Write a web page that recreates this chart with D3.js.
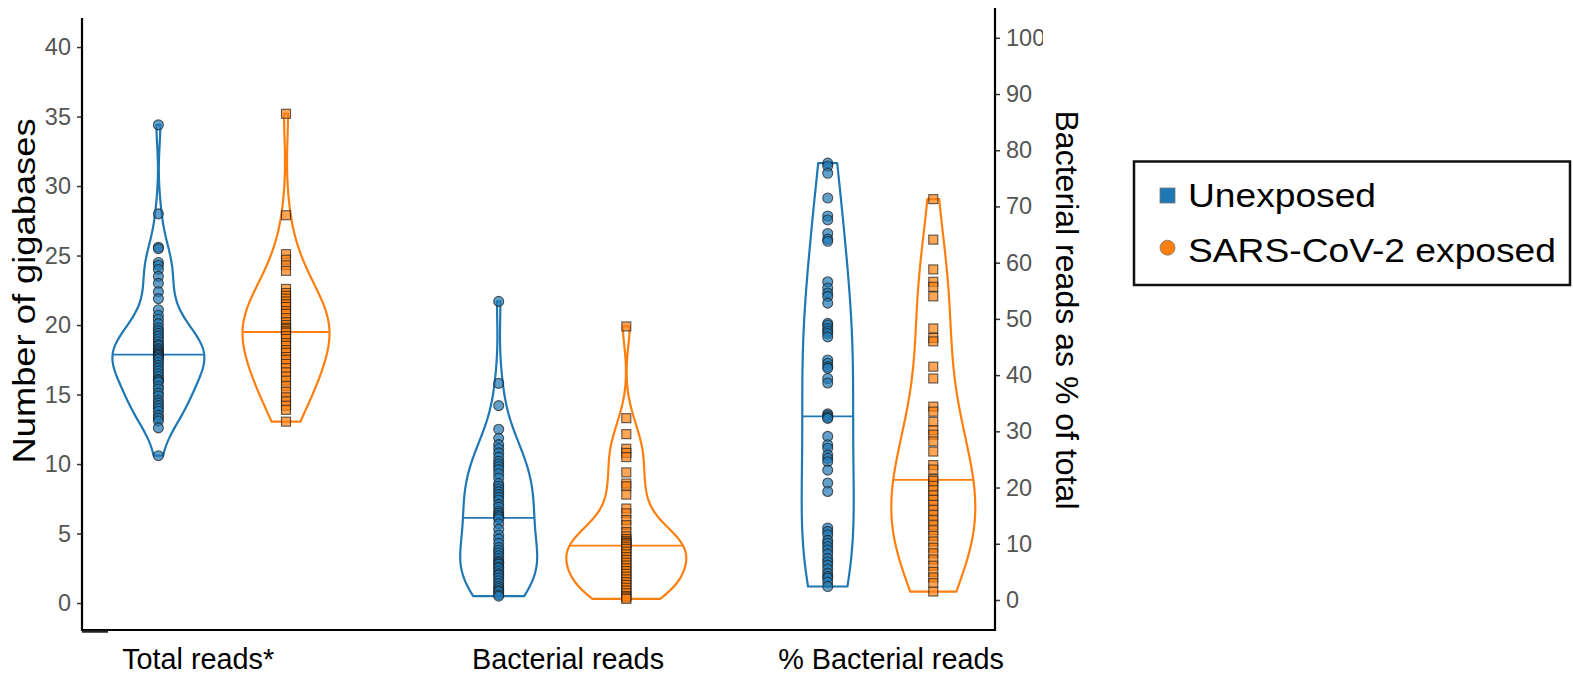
<!DOCTYPE html>
<html>
<head>
<meta charset="utf-8">
<script src="https://cdn.jsdelivr.net/npm/d3@7"></script>
<style>
  html, body { margin: 0; padding: 0; background: #fff; }
  svg { display: block; font-family: "Liberation Sans", Arial, Helvetica, sans-serif; }
</style>
</head>
<body>
<svg id="chart" width="1573" height="677"></svg>
<script>
// ---- data -------------------------------------------------------------
const metrics = ["Total reads*", "Bacterial reads", "% Bacterial reads"];
const groups = ["Unexposed", "SARS-CoV-2 exposed"];
const leftTicks = [0, 5, 10, 15, 20, 25, 30, 35, 40];
const rightTicks = [0, 10, 20, 30, 40, 50, 60, 70, 80, 90, 100];
const leftAxisTitle = "Number of gigabases";
const rightAxisTitle = "Bacterial reads as % of total";

// gigabases per sample
const totalUnexposed = [34.4, 28.0, 25.6, 25.5, 24.5, 24.3, 24.0, 23.5, 23.0, 22.4, 21.9, 21.1,
  20.7, 20.4, 20.1, 19.8, 19.6, 19.4, 19.2, 19.0, 18.8, 18.6, 18.5, 18.3, 18.2, 18.1, 18.0,
  17.9, 17.85, 17.8, 17.7, 17.6, 17.5, 17.3, 17.1, 16.9, 16.7, 16.5, 16.3, 16.1, 16.0, 15.9,
  15.6, 15.4, 15.1, 14.9, 14.6, 14.4, 14.2, 14.0, 13.8, 13.5, 13.3, 13.1, 12.6, 10.6];
const totalExposed = [35.2, 27.9, 25.1, 24.7, 24.3, 23.9, 22.6, 22.3, 22.1, 21.9, 21.7, 21.5,
  21.3, 21.0, 20.8, 20.5, 20.2, 20.0, 19.8, 19.7, 19.55, 19.45, 19.2, 19.0, 18.7, 18.5, 18.2,
  18.0, 17.7, 17.5, 17.2, 16.9, 16.6, 16.3, 16.0, 15.6, 15.2, 14.8, 14.5, 14.2, 13.9, 13.05];
const bacterialUnexposed = [21.7, 15.8, 14.2, 12.5, 11.85, 11.4, 11.1, 10.8, 10.5, 10.2, 10.0,
  9.8, 9.6, 9.3, 9.0, 8.6, 8.4, 8.2, 8.0, 7.8, 7.6, 7.4, 7.1, 6.9, 6.6, 6.45, 6.3, 6.2,
  6.05, 5.7, 5.3, 4.9, 4.6, 4.3, 4.0, 3.8, 3.6, 3.4, 3.2, 3.0, 2.9, 2.8, 2.6, 2.5, 2.3, 2.1,
  2.0, 1.8, 1.6, 1.4, 1.2, 1.05, 0.9, 0.8, 0.6, 0.5];
const bacterialExposed = [19.9, 13.3, 12.15, 11.1, 10.8, 10.5, 9.4, 8.6, 8.4, 7.8, 6.8, 6.45,
  5.97, 5.6, 5.1, 4.8, 4.6, 4.45, 4.35, 4.3, 4.2, 4.05, 3.9, 3.7, 3.5, 3.3, 3.1, 2.9, 2.7,
  2.5, 2.3, 2.1, 1.9, 1.7, 1.5, 1.3, 1.1, 0.9, 0.7, 0.5, 0.4, 0.3];
// bacterial share of all reads, percent
const pctUnexposed = [77.7, 77.2, 75.9, 71.5, 68.3, 67.6, 65.2, 64.2, 63.8, 56.6, 55.5, 54.6,
  54.0, 52.8, 49.2, 48.9, 48.3, 47.8, 47.4, 46.8, 42.7, 42.1, 41.5, 41.2, 39.4, 38.6, 33.1,
  32.8, 32.5, 32.3, 29.1, 27.6, 27.0, 25.8, 25.2, 24.6, 23.1, 20.8, 19.3, 12.8, 12.2, 11.6,
  10.6, 10.1, 9.5, 8.9, 8.2, 7.4, 6.8, 6.2, 5.5, 4.75, 4.2, 3.9, 3.2, 2.4];
const pctExposed = [71.3, 64.1, 58.8, 56.6, 55.7, 54.0, 48.3, 46.6, 46.0, 41.5, 39.4, 34.4, 33.5,
  31.7, 30.2, 29.4, 28.2, 26.4, 24.0, 23.2, 21.5, 21.2, 20.3, 19.5, 18.6, 17.8, 16.9, 16.0,
  15.1, 14.2, 13.3, 12.4, 11.4, 10.4, 9.3, 8.3, 7.2, 6.1, 5.0, 4.0, 3.0, 1.5];

// ---- layout -----------------------------------------------------------
const colors = { "Unexposed": "#1f77b4", "SARS-CoV-2 exposed": "#ff7f0e" };
const plotTop = 18, plotTopRight = 8, plotBottom = 630;
const axisLeftX = 82, axisRightX = 995;
const groupOffset = 0.1875;                              // half distance between paired violins
const halfWidths = [[46, 43.5], [38.5, 60], [26, 42]];   // widest half-width of each violin (px)
const bwScale = [[1, 1.25], [1, 0.8], [1.15, 1]];        // kernel bandwidth multipliers
const labelShift = [-24, 5.5, 10.5];                     // category label shift from pair centre

const svg = d3.select("#chart");

const yLeft = d3.scaleLinear().domain([-1.94, 42.09]).range([plotBottom, plotTop]);
const yRight = d3.scaleLinear().domain([-5.34, 105.3]).range([plotBottom, plotTopRight]);
const xLeft = d3.scaleLinear().domain([0, 1]).range([222.2, 562.5]);
const xRight = d3.scaleLinear().domain([0, 1]).range([880.5, 1162]);

const series = [
  { metric: 0, group: groups[0], values: totalUnexposed, x: xLeft(0 - groupOffset), y: yLeft },
  { metric: 0, group: groups[1], values: totalExposed, x: xLeft(0 + groupOffset), y: yLeft },
  { metric: 1, group: groups[0], values: bacterialUnexposed, x: xLeft(1 - groupOffset), y: yLeft },
  { metric: 1, group: groups[1], values: bacterialExposed, x: xLeft(1 + groupOffset), y: yLeft },
  { metric: 2, group: groups[0], values: pctUnexposed, x: xRight(0 - groupOffset), y: yRight },
  { metric: 2, group: groups[1], values: pctExposed, x: xRight(0 + groupOffset), y: yRight }
];
const metricCentres = [xLeft(0), xLeft(1), xRight(0)];

// Gaussian kernel density, Silverman bandwidth, evaluated over the data range
function density(values, scale) {
  const n = values.length;
  const sd = d3.deviation(values);
  const sorted = values.slice().sort(d3.ascending);
  const iqr = d3.quantileSorted(sorted, 0.75) - d3.quantileSorted(sorted, 0.25);
  const bw = scale * 1.059 * Math.min(sd, iqr / 1.349) * Math.pow(n, -0.2);
  const lo = sorted[0], hi = sorted[n - 1];
  const f = v => d3.sum(values, x => Math.exp(-0.5 * ((v - x) / bw) ** 2)) / (n * bw * Math.sqrt(2 * Math.PI));
  const pts = d3.range(0, 121).map(i => {
    const v = lo + (hi - lo) * i / 120;
    return { v, d: f(v) };
  });
  return { pts, f };
}

// ---- violins ----------------------------------------------------------
const gViolins = svg.append("g");
series.forEach(s => {
  const gi = groups.indexOf(s.group);
  const k = density(s.values, bwScale[s.metric][gi]);
  const w = d3.scaleLinear().domain([0, d3.max(k.pts, p => p.d)]).range([0, halfWidths[s.metric][gi]]);
  const area = d3.area()
    .y(p => s.y(p.v))
    .x0(p => s.x - w(p.d))
    .x1(p => s.x + w(p.d))
    .curve(d3.curveBasis);
  gViolins.append("path")
    .attr("d", area(k.pts))
    .attr("fill", "none")
    .attr("stroke", colors[s.group])
    .attr("stroke-width", 2.2)
    .attr("stroke-linejoin", "round");
  const med = d3.median(s.values);
  const mw = w(k.f(med));
  gViolins.append("line")
    .attr("x1", s.x - mw).attr("x2", s.x + mw)
    .attr("y1", s.y(med)).attr("y2", s.y(med))
    .attr("stroke", colors[s.group])
    .attr("stroke-width", 1.8);
});

// ---- sample points ----------------------------------------------------
const gPoints = svg.append("g");
series.forEach(s => {
  if (s.group === groups[0]) {
    gPoints.selectAll(null).data(s.values).join("circle")
      .attr("cx", s.x).attr("cy", v => s.y(v)).attr("r", 5)
      .attr("fill", colors[s.group]).attr("fill-opacity", 0.7)
      .attr("stroke", "#1a1a1a").attr("stroke-opacity", 0.7).attr("stroke-width", 1.1);
  } else {
    const h = 4.5;
    gPoints.selectAll(null).data(s.values).join("rect")
      .attr("x", s.x - h).attr("y", v => s.y(v) - h)
      .attr("width", 2 * h).attr("height", 2 * h)
      .attr("fill", colors[s.group]).attr("fill-opacity", 0.7)
      .attr("stroke", "#1a1a1a").attr("stroke-opacity", 0.7).attr("stroke-width", 1.1);
  }
});

// ---- axes -------------------------------------------------------------
function styleAxis(g) {
  g.selectAll(".tick text").attr("fill", "#555").attr("font-size", 23.5)
    .attr("font-family", "'Liberation Sans', Arial, sans-serif");
  g.selectAll(".tick line").attr("stroke", "#333").attr("stroke-width", 1.5);
  g.select(".domain").remove();
}
svg.append("g")
  .attr("transform", `translate(${axisLeftX},0)`)
  .call(d3.axisLeft(yLeft).tickValues(leftTicks).tickSize(5).tickPadding(6).tickSizeOuter(0))
  .call(styleAxis);

svg.append("clipPath").attr("id", "rightClip")
  .append("rect").attr("x", 900).attr("y", 0).attr("width", 143).attr("height", 677);
svg.append("g")
  .attr("clip-path", "url(#rightClip)")
  .append("g")
  .attr("transform", `translate(${axisRightX},0)`)
  .call(d3.axisRight(yRight).tickValues(rightTicks).tickSize(5).tickPadding(6).tickSizeOuter(0))
  .call(styleAxis);

// frame lines
svg.append("line").attr("x1", axisLeftX).attr("x2", axisLeftX)
  .attr("y1", plotTop).attr("y2", plotBottom + 1).attr("stroke", "#000").attr("stroke-width", 2.2);
svg.append("line").attr("x1", axisRightX).attr("x2", axisRightX)
  .attr("y1", plotTopRight).attr("y2", plotBottom + 1).attr("stroke", "#000").attr("stroke-width", 2.2);
svg.append("line").attr("x1", axisLeftX - 1).attr("x2", axisRightX + 1)
  .attr("y1", plotBottom).attr("y2", plotBottom).attr("stroke", "#000").attr("stroke-width", 2.2);
svg.append("line").attr("x1", axisLeftX).attr("x2", axisLeftX + 26)
  .attr("y1", plotBottom + 1.5).attr("y2", plotBottom + 1.5).attr("stroke", "#222").attr("stroke-width", 2.5);

// category labels
svg.append("g").selectAll("text").data(metrics).join("text")
  .attr("x", (d, i) => metricCentres[i] + labelShift[i])
  .attr("y", 669)
  .attr("text-anchor", "middle")
  .attr("font-size", 28.8)
  .attr("fill", "#000")
  .text(d => d);

// axis titles
svg.append("text")
  .attr("transform", `translate(34.5,${(118.4 + 463.5) / 2}) rotate(-90)`)
  .attr("text-anchor", "middle")
  .attr("font-size", 31)
  .attr("textLength", 345)
  .attr("lengthAdjust", "spacingAndGlyphs")
  .attr("fill", "#000")
  .text(leftAxisTitle);
svg.append("text")
  .attr("transform", `translate(1056,${(110.4 + 509.6) / 2}) rotate(90)`)
  .attr("text-anchor", "middle")
  .attr("font-size", 32)
  .attr("textLength", 399)
  .attr("lengthAdjust", "spacingAndGlyphs")
  .attr("fill", "#000")
  .text(rightAxisTitle);

// ---- legend -----------------------------------------------------------
const lg = svg.append("g");
lg.append("rect").attr("x", 1134).attr("y", 161.5).attr("width", 436).attr("height", 123.5)
  .attr("fill", "#fff").attr("stroke", "#111").attr("stroke-width", 2.5);
lg.append("rect").attr("x", 1160).attr("y", 188).attr("width", 15).attr("height", 15)
  .attr("fill", colors[groups[0]]).attr("stroke", "#777").attr("stroke-width", 0.8);
lg.append("circle").attr("cx", 1167.5).attr("cy", 247.7).attr("r", 7.5)
  .attr("fill", colors[groups[1]]).attr("stroke", "#777").attr("stroke-width", 0.8);
lg.selectAll("text.entry").data(groups).join("text")
  .attr("class", "entry")
  .attr("x", 1188)
  .attr("y", (d, i) => [207, 262][i])
  .attr("font-size", 34)
  .attr("textLength", (d, i) => [188, 368][i])
  .attr("lengthAdjust", "spacingAndGlyphs")
  .attr("fill", "#000")
  .text(d => d);
</script>
</body>
</html>
